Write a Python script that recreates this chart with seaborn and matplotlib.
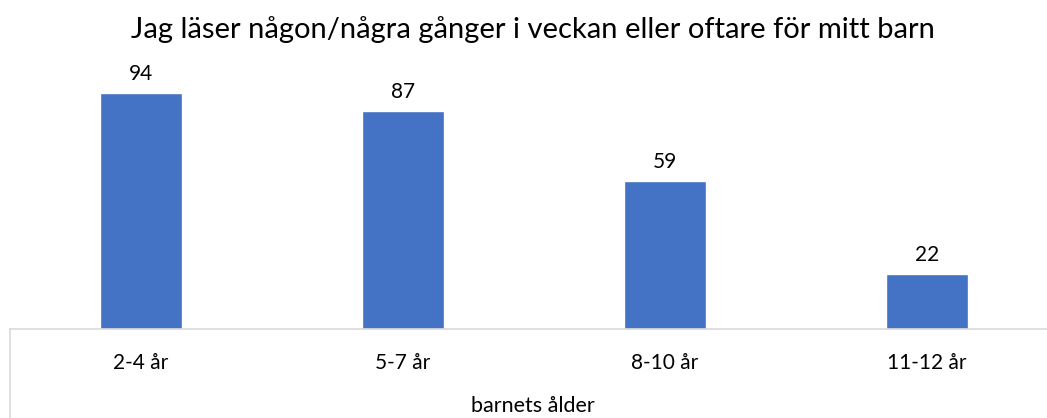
import pandas as pd
import matplotlib.pyplot as plt
import seaborn as sns
from matplotlib.lines import Line2D

# data
ages = ["2-4 år", "5-7 år", "8-10 år", "11-12 år"]
shares = [94, 87, 59, 22]
title = "Jag läser någon/några gånger i veckan eller oftare för mitt barn"
xlabel = "barnets ålder"

df = pd.DataFrame({"age": ages, "share": shares})

sns.set_style("white")
plt.rcParams["font.family"] = ["Lato", "DejaVu Sans"]
plt.rcParams["text.color"] = "#000000"

W, H = 1047, 418
fig = plt.figure(figsize=(W / 100, H / 100), dpi=100)
# plot area in pixels: x 10..1058, baseline at y=329
ax = fig.add_axes([10 / W, (H - 329) / H, 1048 / W, 251 / H])

sns.barplot(data=df, x="age", y="share", color="#4472C4", width=0.31,
            saturation=1, ax=ax)
ax.set_ylim(0, 100)
ax.set_xlim(-0.5, 3.5)

ax.bar_label(ax.containers[0], fontsize=15, padding=6.5, color="#000000")

for s in ["top", "right", "left"]:
    ax.spines[s].set_visible(False)
ax.spines["bottom"].set_color("#d9d9d9")
ax.spines["bottom"].set_linewidth(1.2)
ax.set_yticks([])
ax.tick_params(axis="x", length=0, pad=17, labelsize=15, labelcolor="#000000")
ax.set_xlabel("")
ax.set_ylabel("")

# left border of the category axis box
ax.add_line(Line2D([0, 0], [0, -0.4], transform=ax.transAxes, color="#d9d9d9",
                   lw=1.2, clip_on=False))

fig.text(533 / W, 1 - 30 / H, title, ha="center", va="center", fontsize=21,
         color="#000000")
fig.text(533 / W, 1 - 406 / H, xlabel, ha="center", va="center", fontsize=15.5,
         color="#000000")

fig.savefig("out.png", dpi=100)
